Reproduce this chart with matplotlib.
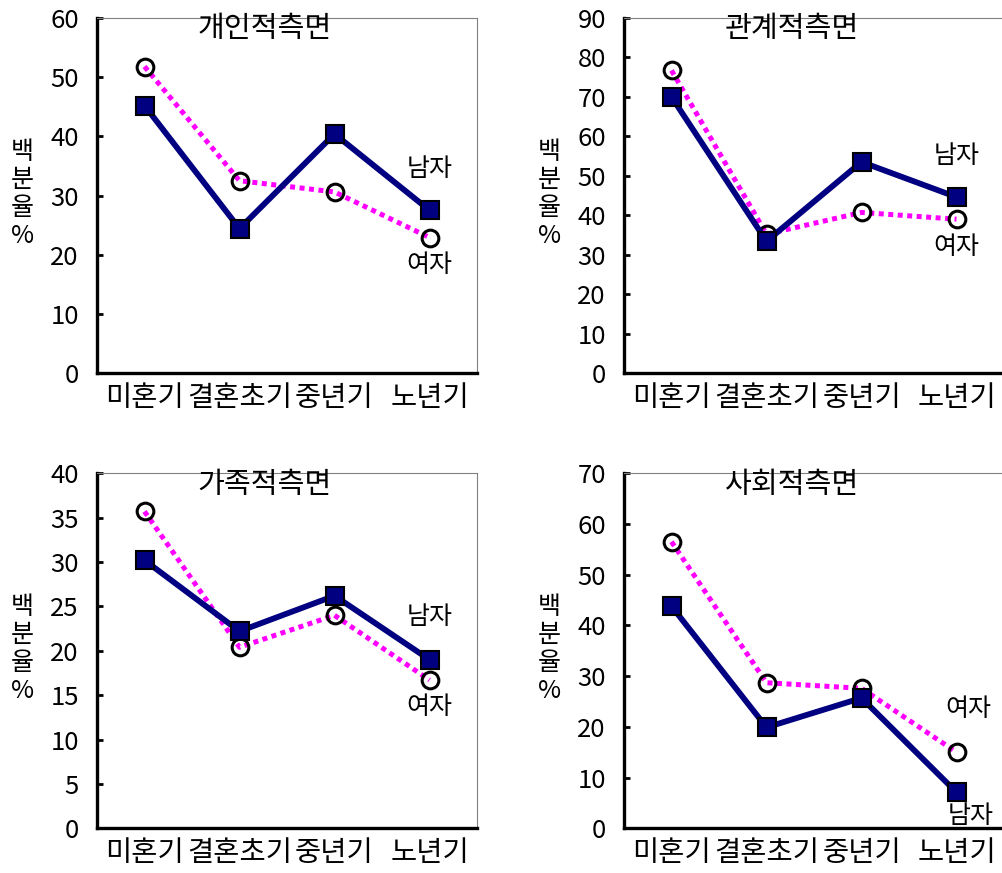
import matplotlib
matplotlib.use('Agg')
import matplotlib.pyplot as plt
import numpy as np

plt.rcParams['font.family'] = ['Noto Sans CJK KR', 'DejaVu Sans']

stages = ['미혼기', '결혼초기', '중년기', '노년기']
titles = ['개인적측면', '관계적측면', '가족적측면', '사회적측면']

male_personal = [45.2, 24.4, 40.4, 27.5]
female_personal = [51.8, 32.5, 30.6, 22.9]
male_relational = [70.0, 33.4, 53.5, 44.6]
female_relational = [76.7, 35.2, 40.7, 39.0]
male_family = [30.2, 22.2, 26.2, 19.0]
female_family = [35.7, 20.4, 24.0, 16.7]
male_social = [43.8, 19.9, 25.7, 7.1]
female_social = [56.5, 28.7, 27.6, 15.0]

ymax = [60, 90, 40, 70]
ystep = [10, 10, 5, 10]

# (x, y) of the 남자 / 여자 tags in data units
male_tag = [(3, 34.5), (3, 55.0), (3, 23.8), (3.15, 2.5)]
female_tag = [(3, 18.2), (3, 32.0), (3, 13.7), (3.12, 23.6)]

males = [male_personal, male_relational, male_family, male_social]
females = [female_personal, female_relational, female_family, female_social]

NAVY = '#000080'
MAGENTA = '#FF00FF'

fig = plt.figure(figsize=(10.02, 8.73), dpi=100)

W, H = 1002., 873.
boxes = [(97, 18), (624, 18), (97, 473.3), (624, 473.3)]  # left, top in px
aw, ah = 380., 355.

x = np.arange(len(stages))
for i in range(4):
    l, t = boxes[i]
    ax = fig.add_axes([l / W, 1 - (t + ah) / H, aw / W, ah / H])

    ax.plot(x, females[i], color=MAGENTA, lw=3.6, linestyle=(0, (1, 0.9)),
            dash_capstyle='butt', zorder=2)
    ax.plot(x, females[i], linestyle='none', marker='o', ms=12,
            mfc='none', mec='black', mew=2.2, zorder=3)
    ax.plot(x, males[i], color=NAVY, lw=4.2, marker='s', ms=12.5,
            mfc=NAVY, mec='black', mew=1.5, zorder=4)

    ax.set_xlim(-0.5, 3.5)
    ax.set_ylim(0, ymax[i])
    ax.set_yticks(np.arange(0, ymax[i] + 1, ystep[i]))
    ax.set_xticks(x)
    ax.set_xticklabels(stages, fontsize=20.5)
    ax.tick_params(axis='y', direction='in', length=4, width=2,
                   labelsize=18.5, pad=13)
    ax.tick_params(axis='x', length=0, pad=7)

    for s in ['left', 'bottom']:
        ax.spines[s].set_linewidth(2.4)
        ax.spines[s].set_color('black')
    for s in ['top', 'right']:
        ax.spines[s].set_linewidth(0.8)
        ax.spines[s].set_color('#808080')

    ax.text(0.442, 0.968, titles[i], transform=ax.transAxes,
            ha='center', va='center', fontsize=21)
    # vertical stacked axis caption
    ax.text(-0.197, 0.505, '백\n분\n율\n%', transform=ax.transAxes,
            ha='center', va='center', fontsize=18, linespacing=1.1)
    ax.text(male_tag[i][0], male_tag[i][1], '남자', ha='center',
            va='center', fontsize=18)
    ax.text(female_tag[i][0], female_tag[i][1], '여자', ha='center',
            va='center', fontsize=18)

fig.savefig('out.png', dpi=100)
